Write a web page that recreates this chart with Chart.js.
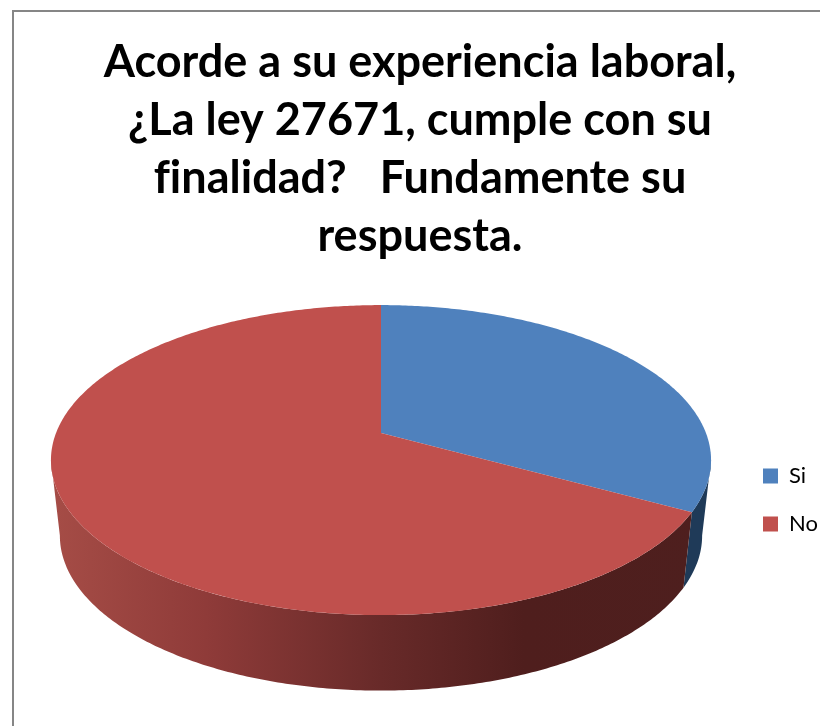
<!DOCTYPE html>
<html>
<head>
<meta charset="utf-8">
<style>
    html, body { margin: 0; padding: 0; background: #fff; overflow: hidden; }
    #wrap { position: relative; width: 820px; height: 726px; }
    #frame { position: absolute; left: 12px; top: 10px; right: 0; bottom: 0; border-left: 2px solid #868686; border-top: 2px solid #868686; }
    canvas { position: absolute; left: 0; top: 0; }
</style>
<script src="https://cdn.jsdelivr.net/npm/chart.js@4"></script>
</head>
<body>
<div id="wrap">
    <div id="frame"></div>
    <canvas id="pie" width="820" height="726"></canvas>
</div>
<script>
const titleLines = ['Acorde a su experiencia laboral,', '¿La ley 27671, cumple con su', 'finalidad?   Fundamente su', 'respuesta.'];
const categories = ['Si', 'No'];
const values = [33, 67];
const colors = ['#4f81bd', '#c0504d'];

// perspective of the tilted disc (a canvas arc can only do a flat ellipse)
const persp = { c: -0.1742, a: 150.3, shiftX: 2.5, shiftY: -67, depth: 75.5, shrink: 0.973 };
const frontLimit = Math.asin(-persp.c);

function project(arc, angle, bottom) {
    const u = Math.cos(angle), v = Math.sin(angle);
    const w = 1 + persp.c * v;
    let x = arc.outerRadius * u / w;
    let y = persp.a * v / w;
    if (bottom) {
        x *= persp.shrink;
        y += persp.depth;
    }
    return { x: arc.x + persp.shiftX + x, y: arc.y + persp.shiftY + y };
}

function tracePoints(ctx, arc, from, to, bottom) {
    const steps = Math.max(2, Math.ceil(Math.abs(to - from) * 90));
    for (let i = 0; i <= steps; i++) {
        const p = project(arc, from + (to - from) * i / steps, bottom);
        ctx.lineTo(p.x, p.y);
    }
}

function wallFill(ctx, arc, index) {
    const cx = arc.x + persp.shiftX, r = arc.outerRadius;
    const g = ctx.createLinearGradient(cx - r, 0, cx + r, 0);
    if (index === 0) {
        g.addColorStop(0, '#1f3a58');
        g.addColorStop(1, '#1f3a58');
    } else {
        g.addColorStop(0, '#a54c46');
        g.addColorStop(0.23, '#8f3b39');
        g.addColorStop(0.5, '#682a29');
        g.addColorStop(0.72, '#4f1e1d');
        g.addColorStop(1, '#4e1f1e');
    }
    return g;
}

const pie3d = {
    id: 'pie3d',
    beforeDraw(chart) {
        // no fi ligature in the title
        chart.ctx.letterSpacing = '0.01px';
    },
    beforeDatasetDraw(chart, args) {
        const ctx = chart.ctx;
        const arcs = args.meta.data;
        arcs.forEach((arc, i) => {
            const lo = Math.max(arc.startAngle, frontLimit);
            const hi = Math.min(arc.endAngle, Math.PI - frontLimit);
            if (hi <= lo) return;
            ctx.beginPath();
            tracePoints(ctx, arc, lo, hi, false);
            tracePoints(ctx, arc, hi, lo, true);
            ctx.closePath();
            ctx.fillStyle = wallFill(ctx, arc, i);
            ctx.fill();
        });
        arcs.forEach((arc, i) => {
            ctx.beginPath();
            ctx.moveTo(arc.x + persp.shiftX, arc.y + persp.shiftY);
            tracePoints(ctx, arc, arc.startAngle, arc.endAngle, false);
            ctx.closePath();
            ctx.fillStyle = colors[i];
            ctx.fill();
        });
        return false;
    }
};

new Chart(document.getElementById('pie').getContext('2d'), {
    type: 'pie',
    plugins: [pie3d],
    data: {
        labels: categories,
        datasets: [{
            data: values,
            backgroundColor: colors,
            borderWidth: 0,
            radius: 325
        }]
    },
    options: {
        responsive: false,
        animation: false,
        events: [],
        layout: { padding: { left: 20, top: 0, right: 0, bottom: 11 } },
        plugins: {
            tooltip: { enabled: false },
            title: {
                display: true,
                text: titleLines,
                color: '#000',
                font: { family: 'Lato', size: 45, weight: 'bold', lineHeight: 1.29 },
                padding: { top: 33, bottom: 20 }
            },
            legend: {
                position: 'right',
                fullSize: false,
                maxWidth: 83,
                labels: {
                    boxWidth: 15,
                    boxHeight: 15,
                    padding: 26,
                    color: '#000',
                    font: { family: 'Lato', size: 22 }
                }
            }
        }
    }
});
</script>
</body>
</html>
